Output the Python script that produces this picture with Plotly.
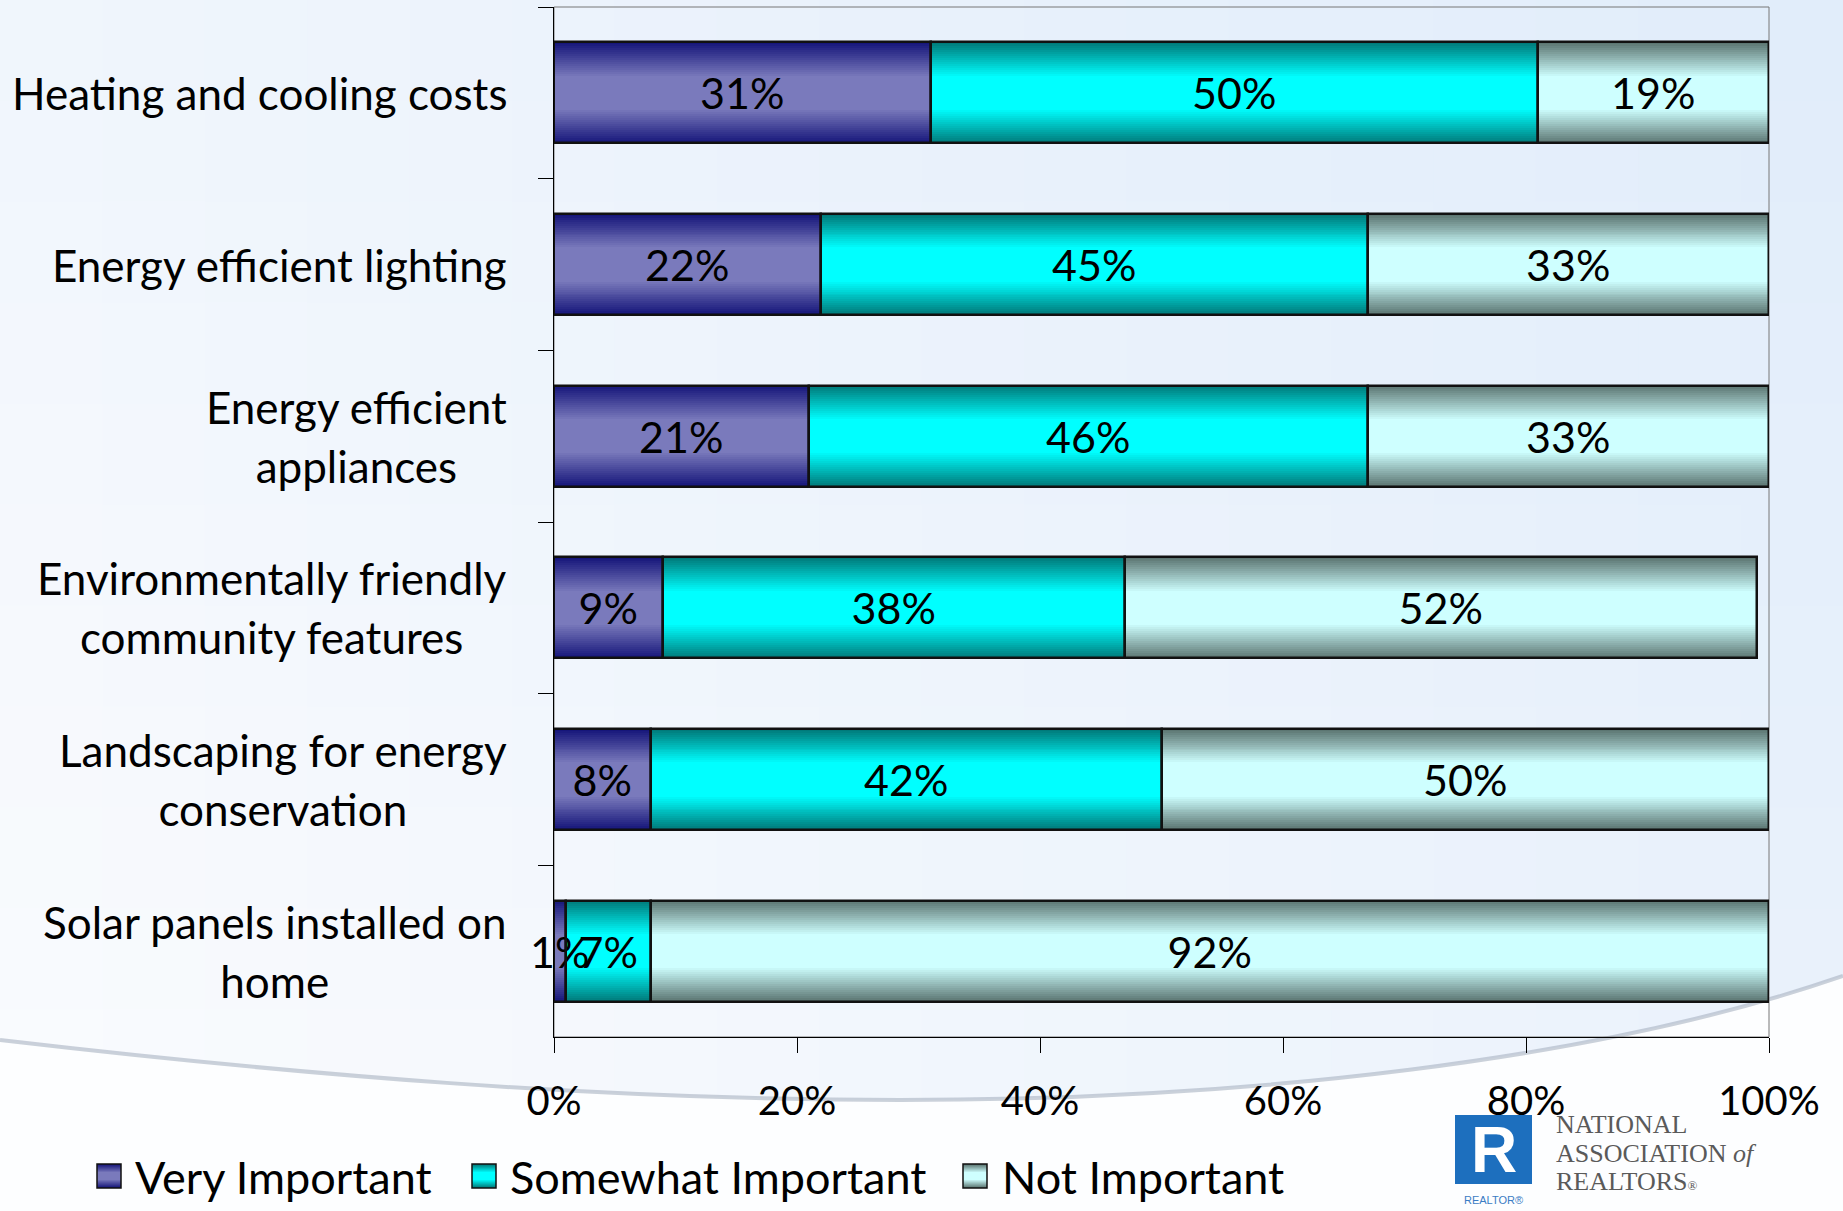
import plotly.graph_objects as go

# ---- data -------------------------------------------------------------
categories = [
    "Heating and cooling costs",
    "Energy efficient lighting",
    "Energy efficient<br>appliances",
    "Environmentally friendly<br>community features",
    "Landscaping for energy<br>conservation",
    "Solar panels installed on<br>home",
]
series_names = ["Very Important", "Somewhat Important", "Not Important"]
very_important = [31, 22, 21, 9, 8, 1]
somewhat_important = [50, 45, 46, 38, 42, 7]
not_important = [19, 33, 33, 52, 50, 92]
x_tick_values = [0, 20, 40, 60, 80, 100]

# ---- geometry / styling ----------------------------------------------
FIG_W, FIG_H = 1843, 1211
PLOT_L, PLOT_R, PLOT_T, PLOT_B = 554, 1769, 7, 1037
FONT = "Lato"


def px_x(x):
    return (x - PLOT_L) / (PLOT_R - PLOT_L)


def px_y(y):
    return (PLOT_B - y) / (PLOT_B - PLOT_T)


def mix(c0, c1, t):
    return "rgb(%d,%d,%d)" % tuple(round(a + (b - a) * t) for a, b in zip(c0, c1))


def path_from_px(cmds):
    out = []
    for cmd in cmds:
        op, pts = cmd[0], cmd[1:]
        coords = " ".join("%.5f,%.5f" % (px_x(x), px_y(y)) for x, y in pts)
        out.append(op + " " + coords if pts else op)
    return " ".join(out)


series_values = [very_important, somewhat_important, not_important]
# (edge colour, centre colour) of each series' vertical shading
palette = [
    ((22, 22, 122), (122, 122, 188)),
    ((0, 122, 122), (0, 255, 255)),
    ((92, 118, 114), (206, 255, 255)),
]

BAR_WIDTH = 0.59
LAYERS = 18
CORE = 0.34  # share of the bar thickness held at the lightest colour

# cumulative starting point of each stacked segment
seg_bases = []
running = [0] * len(categories)
for vals in series_values:
    seg_bases.append(list(running))
    running = [b + v for b, v in zip(running, vals)]

fig = go.Figure()

# shaded fills: nested bars, narrower and lighter towards the middle
for vals, base, (edge, centre) in zip(series_values, seg_bases, palette):
    for k in range(LAYERS):
        t = k / (LAYERS - 1)
        fig.add_trace(go.Bar(
            y=categories, x=vals, base=base, orientation="h",
            width=BAR_WIDTH * (1 - (1 - CORE) * t),
            marker=dict(color=mix(edge, centre, t), line=dict(width=0)),
            showlegend=False, hoverinfo="skip",
        ))

# outlines and value labels on top
for name, vals, base in zip(series_names, series_values, seg_bases):
    fig.add_trace(go.Bar(
        name=name, y=categories, x=vals, base=base, orientation="h",
        width=BAR_WIDTH,
        marker=dict(color="rgba(0,0,0,0)", line=dict(color="#111111", width=2.5)),
        text=[f"{v}%" for v in vals], textposition="inside", textangle=0,
        insidetextanchor="middle", constraintext="none",
        textfont=dict(family=FONT, size=43, color="black"),
        cliponaxis=False, showlegend=False,
    ))

shapes = []

# slide background: soft diagonal wash, bluer towards the top right
COLS, ROWS = 18, 12
c_light, c_blue = (251, 252, 254), (224, 236, 250)
for i in range(COLS):
    for j in range(ROWS):
        x0, x1 = FIG_W * i / COLS, FIG_W * (i + 1) / COLS + 1
        y0, y1 = FIG_H * j / ROWS, FIG_H * (j + 1) / ROWS + 1
        u = 0.6 * ((x0 + x1) / 2 / FIG_W) + 0.4 * (1 - (y0 + y1) / 2 / FIG_H)
        col = mix(c_light, c_blue, u)
        shapes.append(dict(type="rect", xref="paper", yref="paper",
                           x0=px_x(x0), x1=px_x(x1), y0=px_y(y1), y1=px_y(y0),
                           fillcolor=col, line=dict(width=0), layer="below"))

# sweeping curve near the bottom of the slide
curve = [("M", (0, 1040)),
         ("C", (300, 1075), (600, 1100), (900, 1100)),
         ("C", (1250, 1100), (1600, 1060), (1843, 976))]
shapes.append(dict(type="path", xref="paper", yref="paper", layer="below",
                   path=path_from_px(curve + [("L", (1843, 1211)), ("L", (0, 1211)), ("Z",)]),
                   fillcolor="#fdfeff", line=dict(width=0)))
shapes.append(dict(type="path", xref="paper", yref="paper", layer="below",
                   path=path_from_px(curve),
                   line=dict(color="rgba(168,178,194,0.6)", width=4)))

# plot-area frame
shapes.append(dict(type="rect", xref="paper", yref="paper", x0=0, x1=1, y0=0, y1=1,
                   line=dict(color="#767676", width=1), layer="below"))

annotations = []

# category labels, lines centred on one another and right-aligned as a block
for cat in categories:
    txt = "<br>".join(f"<span style='font-size:44px'>{ln}</span>" for ln in cat.split("<br>"))
    annotations.append(dict(x=0, xref="paper", xshift=-45, xanchor="right",
                            y=cat, yref="y", yanchor="middle", text=txt,
                            align="center", showarrow=False,
                            font=dict(family=FONT, size=45, color="black")))

# legend
legend_box_left = [97, 472, 963]
legend_text_left = [133, 508, 1000]
LEG_TOP, LEG_BOT = 1164, 1188
for name, (edge, centre), bx, tx in zip(series_names, palette, legend_box_left, legend_text_left):
    h = (LEG_BOT - LEG_TOP) / 2
    mid = (LEG_BOT + LEG_TOP) / 2
    for k in range(8):
        t = k / 7
        hh = h * (1 - 0.66 * t)
        shapes.append(dict(type="rect", xref="paper", yref="paper",
                           x0=px_x(bx), x1=px_x(bx + 24), y0=px_y(mid + hh), y1=px_y(mid - hh),
                           fillcolor=mix(edge, centre, t), line=dict(width=0), layer="above"))
    shapes.append(dict(type="rect", xref="paper", yref="paper",
                       x0=px_x(bx), x1=px_x(bx + 24), y0=px_y(LEG_BOT), y1=px_y(LEG_TOP),
                       fillcolor="rgba(0,0,0,0)", line=dict(color="#111111", width=1.5),
                       layer="above"))
    annotations.append(dict(x=px_x(tx), xref="paper", xanchor="left",
                            y=px_y(1177), yref="paper", yanchor="middle",
                            text=name, showarrow=False,
                            font=dict(family=FONT, size=45, color="black")))

# association logo
shapes.append(dict(type="rect", xref="paper", yref="paper", layer="below",
                   x0=px_x(1455), x1=px_x(1532), y0=px_y(1184), y1=px_y(1115),
                   fillcolor="#1d6fbe", line=dict(width=0)))
annotations.append(dict(x=px_x(1494), xref="paper", y=px_y(1150), yref="paper",
                        xanchor="center", yanchor="middle", text="<b>R</b>",
                        showarrow=False,
                        font=dict(family="Liberation Sans", size=64, color="white")))
annotations.append(dict(x=px_x(1493), xref="paper", y=px_y(1200), yref="paper",
                        xanchor="center", yanchor="middle", text="REALTOR®",
                        showarrow=False,
                        font=dict(family="Liberation Sans", size=11, color="#3b7cc4")))
logo_lines = ["NATIONAL", "ASSOCIATION <i>of</i>",
              "REALTORS<span style='font-size:13px'>®</span>"]
logo_text = "<br>".join(f"<span style='font-size:26px'>{ln}</span>" for ln in logo_lines)
annotations.append(dict(x=px_x(1554), xref="paper", xanchor="left",
                        y=px_y(1153), yref="paper", yanchor="middle",
                        text=logo_text, align="left", showarrow=False,
                        font=dict(family="Liberation Serif", size=22, color="#5a5a5a")))

fig.update_layout(
    width=FIG_W, height=FIG_H,
    margin=dict(l=PLOT_L, r=FIG_W - PLOT_R, t=PLOT_T, b=FIG_H - PLOT_B, pad=0),
    barmode="overlay", bargap=0,
    paper_bgcolor="#f4f8fd", plot_bgcolor="rgba(0,0,0,0)",
    showlegend=False,
    font=dict(family=FONT, color="black"),
    shapes=shapes, annotations=annotations,
)
fig.update_xaxes(
    range=[0, 100], tickvals=x_tick_values,
    ticktext=[f"{v}%" for v in x_tick_values],
    ticks="outside", ticklen=15, tickwidth=1.3, tickcolor="black",
    showline=True, linecolor="black", linewidth=1.3,
    showgrid=False, zeroline=False,
    tickfont=dict(family=FONT, size=40, color="black"),
    ticklabelstandoff=14,
)
fig.update_yaxes(
    type="category", categoryorder="array", categoryarray=categories,
    range=[len(categories) - 0.5, -0.5],
    ticks="outside", tickson="boundaries", ticklen=15, tickwidth=1.3,
    tickcolor="black", showline=True, linecolor="black", linewidth=1.3,
    showgrid=False, zeroline=False, showticklabels=False,
)

fig.write_html("out.html")
